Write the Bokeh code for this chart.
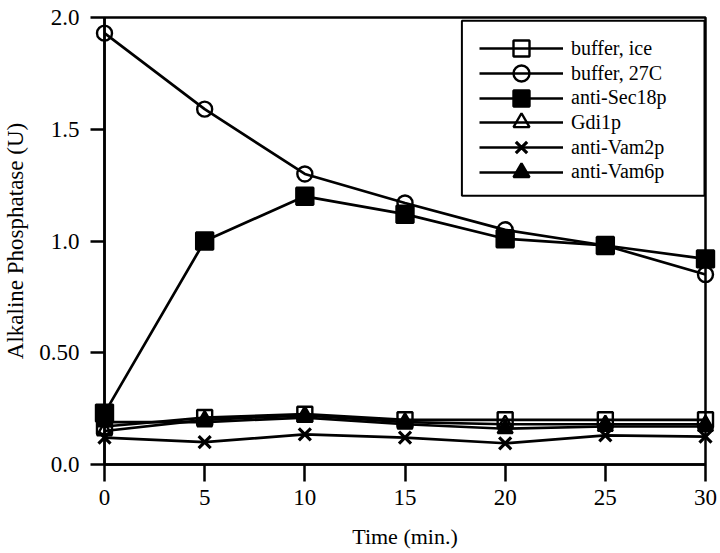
from bokeh.plotting import figure
from bokeh.models import Range1d, FixedTicker, Legend, LegendItem, ColumnDataSource, BoxAnnotation
from bokeh.embed import file_html
from bokeh.resources import INLINE

# ---- data ----
time_min = [0, 5, 10, 15, 20, 25, 30]
buffer_ice = [0.17, 0.21, 0.225, 0.20, 0.20, 0.20, 0.20]
buffer_27c = [1.93, 1.59, 1.30, 1.17, 1.05, 0.98, 0.85]
anti_sec18p = [0.23, 1.00, 1.20, 1.12, 1.01, 0.98, 0.92]
gdi1p = [0.15, 0.20, 0.22, 0.19, 0.18, 0.18, 0.18]
anti_vam2p = [0.12, 0.10, 0.135, 0.12, 0.095, 0.13, 0.125]
anti_vam6p = [0.19, 0.19, 0.21, 0.18, 0.16, 0.17, 0.17]

series_labels = ["buffer, ice", "buffer, 27C", "anti-Sec18p", "Gdi1p", "anti-Vam2p", "anti-Vam6p"]
series_values = [buffer_ice, buffer_27c, anti_sec18p, gdi1p, anti_vam2p, anti_vam6p]

x_ticks = [0, 5, 10, 15, 20, 25, 30]
y_ticks = [0, 0.5, 1.0, 1.5, 2.0]
y_tick_labels = ["0.0", "0.50", "1.0", "1.5", "2.0"]

FONT = "Liberation Serif"

p = figure(width=720, height=553, output_backend="svg", toolbar_location=None,
           x_range=Range1d(0, 30), y_range=Range1d(0, 2.0),
           min_border_left=103, min_border_right=15, min_border_top=17, min_border_bottom=89)
p.grid.visible = False
p.outline_line_color = "black"
p.outline_line_alpha = 1.0
p.outline_line_width = 2.5
p.background_fill_color = "white"
p.border_fill_color = "white"

p.xaxis.ticker = FixedTicker(ticks=x_ticks)
p.yaxis.ticker = FixedTicker(ticks=y_ticks)
p.yaxis.major_label_overrides = {t: s for t, s in zip(y_ticks, y_tick_labels)}
p.xaxis.axis_label = "Time (min.)"
p.yaxis.axis_label = "Alkaline Phosphatase (U)"

for ax in (p.xaxis[0], p.yaxis[0]):
    ax.axis_line_width = 2.5
    ax.axis_line_color = "black"
    ax.major_tick_line_width = 2.5
    ax.major_tick_line_color = "black"
    ax.major_tick_in = 0
    ax.minor_tick_line_color = None
    ax.major_label_text_font = FONT
    ax.major_label_text_font_size = "23px"
    ax.major_label_text_color = "black"
    ax.axis_label_text_font = FONT
    ax.axis_label_text_font_size = "22px"
    ax.axis_label_text_font_style = "normal"
    ax.axis_label_text_color = "black"

p.yaxis.axis_label_text_font_size = "23px"
p.xaxis.major_tick_out = 17
p.xaxis.major_label_standoff = 8
p.xaxis.axis_label_standoff = 16
p.yaxis.major_tick_out = 14
p.yaxis.major_label_standoff = 11
p.yaxis.axis_label_standoff = 8

# marker, fill, size, outline width
styles = [
    ("square", None, 15, 2.4),
    ("circle", None, 15, 2.4),
    ("square", "black", 17, 2.4),
    ("triangle", None, 15, 2.4),
    ("x", None, 17, 3.2),
    ("triangle", "black", 15, 2.4),
]

# legend frame (white box with black border, top-right of the plot area)
legend_box = BoxAnnotation(left=17.84, right=29.95, bottom=1.203, top=1.986,
                           fill_color="white", fill_alpha=1.0,
                           line_color="black", line_alpha=1.0, line_width=2,
                           level="annotation")
p.add_layout(legend_box)

items = []
for label, ys, (marker, fill, size, lw) in zip(series_labels, series_values, styles):
    src = ColumnDataSource(dict(x=time_min, y=ys))
    ln = p.line("x", "y", source=src, line_color="black", line_width=2.7, level="overlay")
    sc = p.scatter("x", "y", source=src, marker=marker, size=size, line_color="black",
                   line_width=lw, fill_color=fill, level="overlay")
    items.append(LegendItem(label=label, renderers=[ln, sc]))

# one single-row legend per series so that legend markers keep a large size
frame_bottom_px = 464
frame_left_px = 103
for i, item in enumerate(items):
    centre = 48.3 + 24.7 * i
    lg = Legend(items=[item], location=(478 - frame_left_px, frame_bottom_px - centre - 20),
                margin=0, padding=0, spacing=0,
                glyph_width=84, glyph_height=40, label_height=20, label_width=20,
                label_standoff=8, border_line_color=None,
                background_fill_alpha=0.0,
                label_text_font=FONT, label_text_font_size="20px", label_text_color="black")
    p.add_layout(lg)

open("out.html", "w").write(file_html(p, INLINE))
